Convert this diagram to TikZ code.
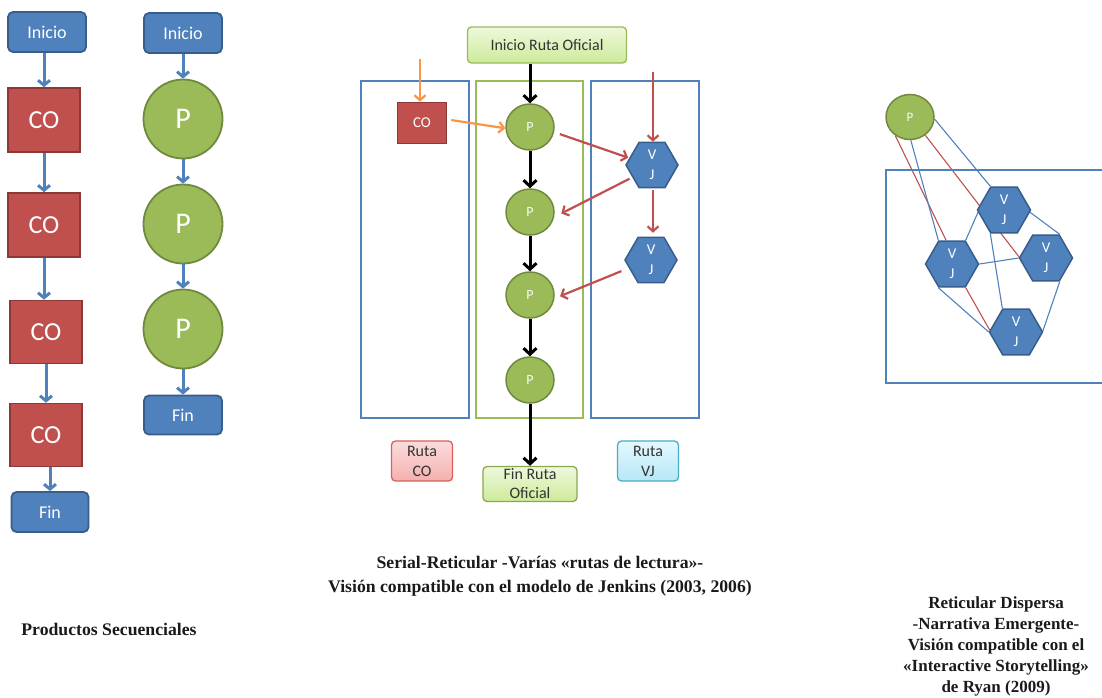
\documentclass[tikz,border=0pt]{standalone}
\usepackage{fontspec}
\setmainfont{Liberation Serif}
\newfontfamily\calib{Carlito}
\usetikzlibrary{arrows.meta,shapes.geometric,backgrounds}
\definecolor{oblue}{HTML}{4F81BD}
\definecolor{bborder}{HTML}{385D8A}
\definecolor{ored}{HTML}{C0504D}
\definecolor{rborder}{HTML}{8C3836}
\definecolor{ogreen}{HTML}{9BBB59}
\definecolor{gborder}{HTML}{71893F}
\definecolor{oorange}{HTML}{F79646}
\definecolor{lgtop}{HTML}{EEF8DC}
\definecolor{lgbot}{HTML}{CDEB9A}
\definecolor{pktop}{HTML}{FBDCDC}
\definecolor{pkbot}{HTML}{F4B0AE}
\definecolor{cytop}{HTML}{E4F8FE}
\definecolor{cybot}{HTML}{B6E8F8}
\definecolor{cyborder}{HTML}{4BACC6}
\definecolor{rdborder}{HTML}{D9605B}
\definecolor{txtdark}{HTML}{333333}
\definecolor{captc}{HTML}{1A1A1A}
\begin{document}
\begin{tikzpicture}[x=1pt,y=-1pt,
  fs/.style={font=\calib\fontsize{#1}{#1}\selectfont},
  bluebox/.style={draw=bborder, fill=oblue, line width=1.8pt, rounded corners=5pt, text=white, inner sep=0pt, fs=18},
  redbox/.style={draw=rborder, fill=ored, line width=1.6pt, text=white, inner sep=0pt, fs=26},
  pbig/.style={circle, draw=gborder, fill=ogreen, line width=1.8pt, minimum size=79pt, inner sep=0pt, text=white, fs=30},
  psmall/.style={ellipse, draw=gborder, fill=ogreen, line width=1.5pt, minimum width=48pt, minimum height=46pt, inner sep=0pt, text=white!92!ogreen, fs=14},
  hexa/.style={regular polygon, regular polygon sides=6, draw=bborder, fill=oblue, line width=1.5pt, minimum size=53pt, inner sep=0pt, text=white, align=center, font=\calib\fontsize{15}{20}\selectfont},
  lightbox/.style={rounded corners=4pt, line width=1.3pt, inner sep=0pt, text=txtdark, align=center, font=\calib\fontsize{16}{20}\selectfont},
  barrow/.style={draw=oblue, line width=3pt, -{Straight Barb[length=5pt,width=12pt]}},
  karrow/.style={draw=black, line width=3pt, -{Straight Barb[length=6pt,width=13pt]}},
  rarrow/.style={draw=ored, line width=2.2pt, -{Straight Barb[length=5pt,width=11pt]}},
  oarrow/.style={draw=oorange, line width=2.2pt, -{Straight Barb[length=5pt,width=11pt]}},
  panel/.style={draw=oblue, line width=2.4pt},
  gpanel/.style={draw=ogreen, line width=2.4pt},
  bline/.style={draw=oblue, line width=1.1pt},
  rline/.style={draw=ored, line width=1.1pt},
  captext/.style={font=\bfseries\fontsize{17.7}{24}\selectfont, text=captc, align=center, inner sep=0pt}
]
\useasboundingbox (0,0) rectangle (1102,697);

% ---------- Column 1 ----------
\node[bluebox, minimum width=78pt, minimum height=40pt] (i1) at (47,32) {Inicio};
\node[redbox, minimum width=72pt, minimum height=64pt] (c1) at (44,120) {CO};
\node[redbox, minimum width=72pt, minimum height=64pt] (c2) at (44,225) {CO};
\node[redbox, minimum width=72pt, minimum height=63pt] (c3) at (46,332) {CO};
\node[redbox, minimum width=72pt, minimum height=63pt] (c4) at (46,435) {CO};
\node[bluebox, minimum width=77pt, minimum height=40pt] (f1) at (50,512) {Fin};
\draw[barrow] (i1.south -| c1.north) -- (c1.north);
\draw[barrow] (c1.south) -- (c2.north);
\draw[barrow] (c2.south) -- (c2.south |- c3.north);
\draw[barrow] (c3.south) -- (c4.north);
\draw[barrow] (c4.south -| f1.north) -- (f1.north);

% ---------- Column 2 ----------
\node[bluebox, minimum width=78pt, minimum height=40pt] (i2) at (183,33) {Inicio};
\node[pbig] (p1) at (183,119) {P};
\node[pbig] (p2) at (183,224) {P};
\node[pbig] (p3) at (183,329) {P};
\node[bluebox, minimum width=78pt, minimum height=39pt] (f2) at (183,415) {Fin};
\draw[barrow] (i2.south) -- (p1.north);
\draw[barrow] (p1.south) -- (p2.north);
\draw[barrow] (p2.south) -- (p3.north);
\draw[barrow] (p3.south) -- (f2.north);

% ---------- Middle panel ----------
\draw[panel] (361,81) rectangle (469,418);
\draw[gpanel] (476,81) rectangle (583,418);
\draw[panel] (591,81) rectangle (699,418);

\node[lightbox, draw=ogreen, top color=lgtop, bottom color=lgbot, minimum width=159pt, minimum height=36pt] (irs) at (547,45) {Inicio Ruta Oficial};
\node[redbox, minimum width=49pt, minimum height=41pt, fs=15] (co) at (422,123) {CO};
\node[psmall] (mp1) at (530,127) {P};
\node[psmall] (mp2) at (530,212) {P};
\node[psmall] (mp3) at (530,295) {P};
\node[psmall] (mp4) at (530,380) {P};
\node[hexa, minimum size=52pt] (vj1) at (652,165) {V\\J};
\node[hexa, minimum size=52pt] (vj2) at (651,260) {V\\J};
\node[lightbox, draw=ogreen!90!black, top color=lgtop, bottom color=lgbot, minimum width=94pt, minimum height=35pt] (fro) at (530,484) {Fin Ruta\\[-1pt]Oficial};
\node[lightbox, draw=rdborder, top color=pktop, bottom color=pkbot, minimum width=61pt, minimum height=40pt] (rco) at (422,461) {Ruta\\CO};
\node[lightbox, draw=cyborder, top color=cytop, bottom color=cybot, minimum width=61pt, minimum height=40pt] (rvj) at (648,461) {Ruta\\VJ};

\coordinate (ostart) at (420,59);
\coordinate (rstart) at (653,72);
\draw[oarrow] (ostart) -- (ostart |- co.north);
\draw[oarrow, shorten <=4pt] (co.8) -- (mp1.183);
\draw[karrow] (irs.south -| mp1.north) -- (mp1.north);
\draw[karrow] (mp1.south) -- (mp2.north);
\draw[karrow] (mp2.south) -- (mp3.north);
\draw[karrow] (mp3.south) -- (mp4.north);
\draw[karrow] (mp4.south) -- (fro.north);
\draw[rarrow] (rstart) -- (rstart |- vj1.north);
\draw[rarrow, shorten <=6pt, shorten >=1pt] (mp1.348) -- (vj1.163);
\draw[rarrow, shorten <=3pt, shorten >=8pt] (vj1.212) -- (mp2.348);
\draw[rarrow, shorten <=2pt, shorten >=4pt] (vj1.south -| rstart) -- (vj2.north -| rstart);
\draw[rarrow, shorten <=8pt, shorten >=6pt] (vj2.200) -- (mp3.352);

% ---------- Right panel ----------
\draw[panel] (1110,170) -- (886,170) -- (886,383) -- (1110,383);
\node[psmall, minimum height=45pt, fs=13] (rp) at (910,117) {P};
\node[hexa] (h1) at (1004,210) {V\\J};
\node[hexa] (h2) at (952,264) {V\\J};
\node[hexa] (h3) at (1046,258) {V\\J};
\node[hexa] (h4) at (1016,332) {V\\J};
\begin{scope}[on background layer]
\draw[rline] (rp.232) -- (h2.104);
\draw[bline] (rp.272) -- (h2.120);
\draw[rline] (rp.310) -- (h3.178);
\draw[bline] (rp.355) -- (h1.120);
\draw[bline] (h2.60) -- (h1.185);
\draw[bline] (h2.east) -- (h3.west);
\draw[bline] (h1.355) -- (h3.60);
\draw[bline] (h1.240) -- (h4.120);
\draw[bline] (h2.240) -- (h4.180);
\draw[rline] (h2.300) -- (h4.176);
\draw[bline] (h3.300) -- (h4.2);
\end{scope}

% ---------- Captions ----------
\node[captext] (t1) at (109,629) {Productos Secuenciales};
\node[captext] (t2) at (540,576) {Serial-Reticular -Varías «rutas de lectura»-\\Visión compatible con el modelo de Jenkins (2003, 2006)};
\node[captext, font=\bfseries\fontsize{17}{21}\selectfont] (t3) at (996,646) {Reticular Dispersa\\-Narrativa Emergente-\\Visión compatible con el\\«Interactive Storytelling»\\de Ryan (2009)};
\end{tikzpicture}
\end{document}
